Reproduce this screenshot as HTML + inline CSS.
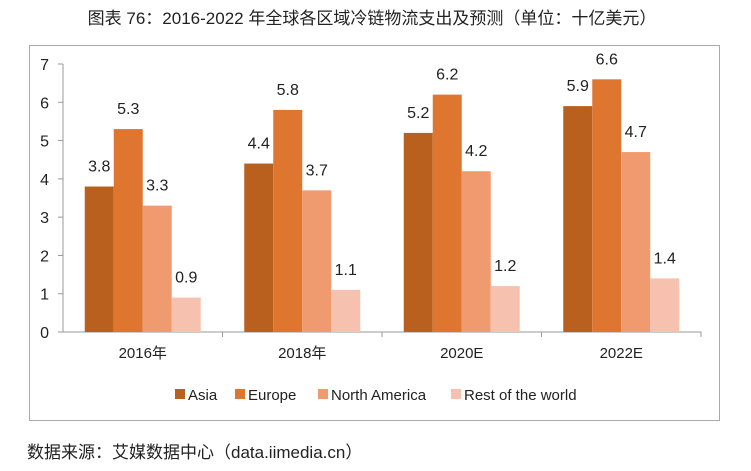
<!DOCTYPE html>
<html><head><meta charset="utf-8"><style>
body{margin:0;background:#fff;width:751px;height:466px;overflow:hidden;font-family:"Liberation Sans","Noto Sans CJK SC",sans-serif;}
</style></head><body>
<svg id="c" width="751" height="466" xmlns="http://www.w3.org/2000/svg" font-family="Liberation Sans, Noto Sans CJK SC, sans-serif">
<text x="372" y="24" text-anchor="middle" font-size="17" fill="#222">图表 76：2016-2022 年全球各区域冷链物流支出及预测（单位：十亿美元）</text>
<rect x="29.5" y="45.5" width="690" height="375" fill="none" stroke="#aaa"/>
<g id="plot"></g>
<text x="27" y="458" font-size="17" fill="#222">数据来源：艾媒数据中心（data.iimedia.cn）</text>
</svg>
<script>
const categories=["2016年","2018年","2020E","2022E"];
const seriesNames=["Asia","Europe","North America","Rest of the world"];
const asia=[3.8,4.4,5.2,5.9];
const europe=[5.3,5.8,6.2,6.6];
const northAmerica=[3.3,3.7,4.2,4.7];
const restOfWorld=[0.9,1.1,1.2,1.4];
const yTicks=[0,1,2,3,4,5,6,7];
const colors=["#B9601F","#DF7630","#F09A6F","#F6C2AF"];
const series=[asia,europe,northAmerica,restOfWorld];
const NS="http://www.w3.org/2000/svg";
const g=document.getElementById('plot');
const x0=63,x1=701,y0=332,y7=64;
const yS=v=>y0-(v/7)*(y0-y7);
const gw=(x1-x0)/categories.length,bw=29;
function mk(t,a,p){const e=document.createElementNS(NS,t);for(const k in a)e.setAttribute(k,a[k]);(p||g).appendChild(e);return e;}
let ax=mk('path',{d:`M${x0},${y7} L${x0},${y0} L${x1},${y0} L${x1},${y0+5}`,fill:'none',stroke:'#999'});


yTicks.forEach(v=>{
 const y=yS(v);
 let t=mk('line',{x1:x0-5,x2:x0,y1:y,y2:y,stroke:'#999'});
 
 
 let l=mk('text',{x:49,y:y+6,'text-anchor':'end','font-size':16,fill:'#222'});l.textContent=v;
 
 
});
categories.forEach((c,i)=>{
 const gx=x0+i*gw;
 if(i>0){let t=mk('line',{x1:gx,x2:gx,y1:y0,y2:y0+5,stroke:'#999'});
 
 }
 let l=mk('text',{x:gx+gw/2,y:y0+26,'text-anchor':'middle','font-size':15,fill:'#222'});l.textContent=c;
 
 
 const start=gx+(gw-4*bw)/2;
 series.forEach((s,j)=>{
  const v=s[i],bx=start+j*bw;
  let r=mk('rect',{x:bx,y:yS(v),width:bw,height:y0-yS(v),fill:colors[j]});
  
  
  let t=mk('text',{x:bx+bw/2,y:yS(v)-15,'text-anchor':'middle','font-size':16,fill:'#222'});t.textContent=v.toFixed(1);
  
  
 });
});
const lx=[175,235,318,451];
seriesNames.forEach((n,j)=>{
 let r=mk('rect',{x:lx[j],y:389,width:10,height:10,fill:colors[j]});
 
 
 let t=mk('text',{x:lx[j]+13,y:400,'font-size':15,fill:'#222'});t.textContent=n;
 
 
});
</script>
</body></html>
